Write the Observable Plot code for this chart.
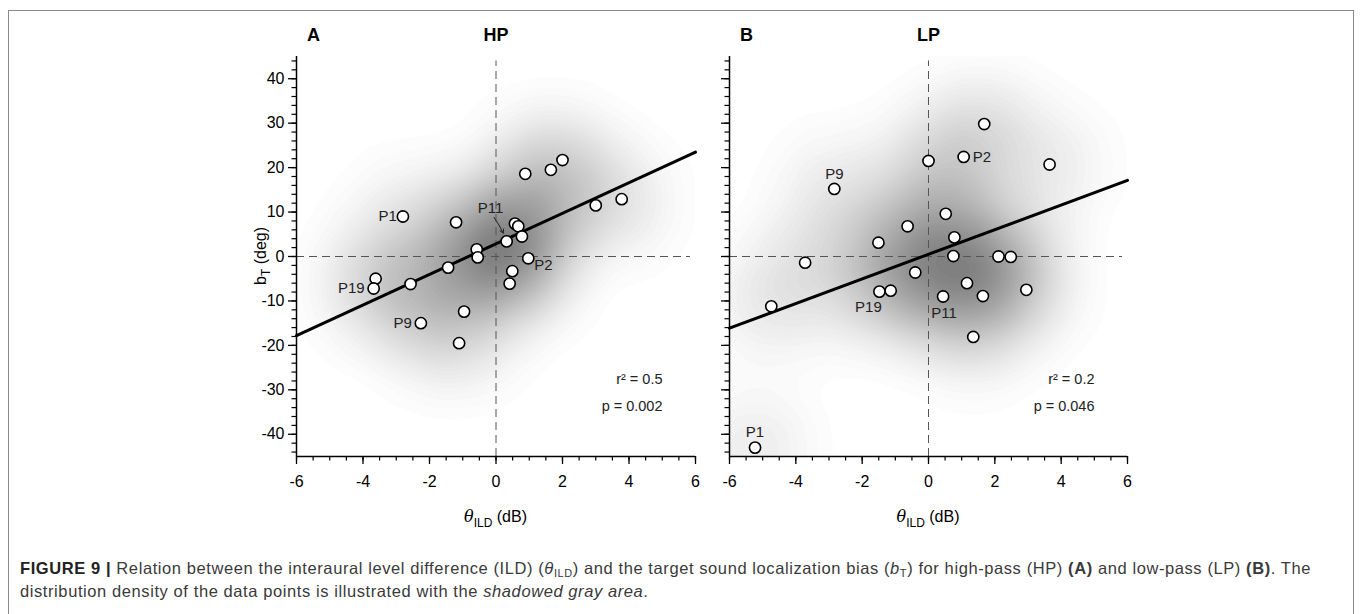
<!DOCTYPE html>
<html>
<head>
<meta charset="utf-8">
<script src="https://cdn.jsdelivr.net/npm/d3@7"></script>
<script src="https://cdn.jsdelivr.net/npm/@observablehq/plot@0.6"></script>
<style>
  html, body { margin: 0; padding: 0; background: #fff; }
  #root { position: relative; width: 1360px; height: 614px; overflow: hidden; font-family: "Liberation Sans", Arial, sans-serif; }
  #frame { position: absolute; left: 8px; top: 10px; width: 1346px; height: 640px; border: 1.5px solid #8a8a8a; box-sizing: border-box; }
  .panel { position: absolute; top: 0; }
  #caption { position: absolute; left: 20px; top: 557px; font-family: "Liberation Sans", Arial, sans-serif; font-size: 16.5px; color: #3a3a3a; white-space: nowrap; }
  #caption .line { display: block; height: 23px; line-height: 23px; }
  #caption .inner { display: inline-block; }
  #caption sub { font-size: 11px; line-height: 0; vertical-align: -3px; }
  #caption b.fig { color: #222; }
</style>
</head>
<body>
<div id="root">
  <div id="frame"></div>
  <div id="panelA" class="panel" style="left:0px"></div>
  <div id="panelB" class="panel" style="left:700px"></div>
  <div id="caption"><span class="line"><span class="inner" id="cap1"><b class="fig">FIGURE 9 |</b> Relation between the interaural level difference (ILD) (<i>θ</i><sub>ILD</sub>) and the target sound localization bias (<i>b</i><sub>T</sub>) for high-pass (HP) <b>(A)</b> and low-pass (LP) <b>(B)</b>. The</span></span><span class="line"><span class="inner" id="cap2">distribution density of the data points is illustrated with the <i>shadowed gray area</i>.</span></span></div>
</div>
<script>
// ---------- Data ----------
// Panel A: high-pass (HP)
const hpTheta = [-2.8, -1.2, 0.88, 1.65, 2.0, 3.0, 3.78, 0.57, 0.67, 0.78, 0.32, -0.58, -0.55, 0.97, -1.44, 0.49, -3.62, -3.68, -2.57, 0.41, -2.26, -0.96, -1.11];
const hpBias  = [9.0, 7.7, 18.6, 19.5, 21.7, 11.5, 12.9, 7.4, 6.8, 4.5, 3.4, 1.6, -0.2, -0.4, -2.5, -3.3, -5.0, -7.2, -6.2, -6.1, -15.0, -12.4, -19.5];
const hpLabel = ["P1", "", "", "", "", "", "", "", "", "", "P11", "", "", "P2", "", "", "", "P19", "", "", "P9", "", ""];
const hpFit = {intercept: 2.85, slope: 3.44};
const hpStats = ["r² = 0.5", "p = 0.002"];

// Panel B: low-pass (LP)
const lpTheta = [1.68, 1.06, 0.0, 3.65, -2.84, 0.52, -0.63, 0.78, -1.51, 0.75, 2.11, 2.48, -3.72, -0.40, 1.16, -1.48, -1.14, 0.44, 1.64, 2.95, -4.74, 1.35, -5.23];
const lpBias  = [29.8, 22.4, 21.5, 20.7, 15.2, 9.6, 6.8, 4.3, 3.1, 0.1, 0.0, -0.1, -1.4, -3.6, -6.0, -7.9, -7.7, -9.0, -8.9, -7.5, -11.2, -18.1, -43.0];
const lpLabel = ["", "P2", "", "", "P9", "", "", "", "", "", "", "", "", "", "", "P19", "", "P11", "", "", "", "", "P1"];
const lpFit = {intercept: 0.5, slope: 2.77};
const lpStats = ["r² = 0.2", "p = 0.046"];

// Axis ticks
const xMajor = [-6, -4, -2, 0, 2, 4, 6];
const xMinor = d3.range(-6, 6.001, 0.5);
const yMajor = [-40, -30, -20, -10, 0, 10, 20, 30, 40];
const yMinor = d3.range(-44, 44.001, 2);
const xDomain = [-6, 6];
const yDomain = [-45, 45];

// ---------- Styles (label placement) ----------
const labelStyleA = {
  P1:  {dx: -6, dy: 0, textAnchor: "end"},
  P19: {dx: -9, dy: 0, textAnchor: "end"},
  P9:  {dx: -9, dy: 0, textAnchor: "end"},
  P2:  {dx: 6, dy: 7, textAnchor: "start"},
  P11: {dx: -16, dy: -33, textAnchor: "middle"}
};
const labelStyleB = {
  P2:  {dx: 9, dy: 0, textAnchor: "start"},
  P9:  {dx: 0, dy: -15, textAnchor: "middle"},
  P19: {dx: -11, dy: 16, textAnchor: "middle"},
  P11: {dx: 1, dy: 17, textAnchor: "middle"},
  P1:  {dx: 0, dy: -15, textAnchor: "middle"}
};

const fmt = d => String(d);   // hyphen-minus as in the reference

function makePanel({theta, bias, label, fit, stats, letter, title, labelStyle, width, marginLeft, marginRight, showYLabels, arrowFor}) {
  const rows = theta.map((t, i) => ({x: t, y: bias[i], label: label[i]}));
  const fitLine = xDomain.map(x => ({x, y: fit.intercept + fit.slope * x}));
  const marks = [
    Plot.density(rows, {x: "x", y: "y", fill: "density", bandwidth: 36, thresholds: 50, clip: true}),
    Plot.ruleX([0], {y1: -45, y2: 44, stroke: "#555", strokeWidth: 1, strokeDasharray: "8,5"}),
    Plot.ruleY([0], {x1: -6, x2: 5.85, stroke: "#555", strokeWidth: 1, strokeDasharray: "8,5"}),
    Plot.line(fitLine, {x: "x", y: "y", stroke: "#000", strokeWidth: 3}),
    Plot.ruleX([-6], {stroke: "#000", strokeWidth: 1.5}),
    Plot.ruleY([-45], {stroke: "#000", strokeWidth: 1.5}),
    Plot.axisX(xMajor, {tickSize: 8, tickPadding: 11, label: null, fontSize: 16, stroke: "#000", strokeWidth: 1.3, tickFormat: fmt}),
    Plot.axisX(xMinor, {tickSize: 4.5, tickFormat: () => "", label: null, stroke: "#000", strokeWidth: 1.2}),
    Plot.axisY(yMajor, {tickSize: 8, tickPadding: 4, label: null, fontSize: 16, stroke: "#000", strokeWidth: 1.3, tickFormat: showYLabels ? fmt : () => ""}),
    Plot.axisY(yMinor, {tickSize: 4.5, tickFormat: () => "", label: null, stroke: "#000", strokeWidth: 1.2})
  ];
  if (arrowFor) {
    const target = rows.filter(r => r.label === arrowFor);
    marks.push(Plot.arrow(target, {x1: d => d.x - 0.38, y1: d => d.y + 5.4, x2: "x", y2: "y", insetEnd: 9, headLength: 6, stroke: "#222", strokeWidth: 1, bend: 8}));
  }
  marks.push(Plot.dot(rows, {x: "x", y: "y", r: 5.6, fill: "#fff", stroke: "#000", strokeWidth: 1.6}));
  for (const [name, st] of Object.entries(labelStyle)) {
    marks.push(Plot.text(rows.filter(r => r.label === name), {x: "x", y: "y", text: "label", fontSize: 15, fill: "#222", ...st}));
  }
  marks.push(Plot.text([letter], {frameAnchor: "top-left", dx: 17, dy: -21, lineAnchor: "middle", textAnchor: "middle", fontSize: 18, fontWeight: "bold", fill: "#000"}));
  marks.push(Plot.text([title], {frameAnchor: "top", dy: -21, lineAnchor: "middle", fontSize: 18, fontWeight: "bold", fill: "#000"}));
  marks.push(Plot.text([stats[0]], {frameAnchor: "bottom-right", dx: -33, dy: -77, lineAnchor: "middle", textAnchor: "end", fontSize: 14.5, fill: "#222"}));
  marks.push(Plot.text([stats[1]], {frameAnchor: "bottom-right", dx: -33, dy: -50, lineAnchor: "middle", textAnchor: "end", fontSize: 14.5, fill: "#222"}));

  return Plot.plot({
    width, height: 535,
    marginLeft, marginRight, marginTop: 56, marginBottom: 79,
    x: {domain: xDomain},
    y: {domain: yDomain},
    color: {type: "linear", range: ["#ffffff", "#808080"], interpolate: "rgb"},
    style: {fontFamily: "'Liberation Sans', Arial, sans-serif", fontSize: "16px", color: "#000", background: "transparent", overflow: "visible"},
    marks
  });
}

const svgA = makePanel({theta: hpTheta, bias: hpBias, label: hpLabel, fit: hpFit, stats: hpStats, letter: "A", title: "HP", labelStyle: labelStyleA, width: 700, marginLeft: 296, marginRight: 5, showYLabels: true, arrowFor: "P11"});
const svgB = makePanel({theta: lpTheta, bias: lpBias, label: lpLabel, fit: lpFit, stats: lpStats, letter: "B", title: "LP", labelStyle: labelStyleB, width: 440, marginLeft: 29, marginRight: 13, showYLabels: false, arrowFor: null});
document.getElementById("panelA").appendChild(svgA);
document.getElementById("panelB").appendChild(svgB);

// Axis titles with subscripts
function addXLabel(svg, cx) {
  const t = d3.select(svg).append("text").attr("x", cx).attr("y", 522).attr("text-anchor", "middle")
    .attr("font-size", 16).attr("fill", "#000");
  t.append("tspan").attr("font-style", "italic").attr("font-family", "'DejaVu Serif', serif").text("θ");
  t.append("tspan").attr("font-size", 12).attr("dy", 5).text("ILD");
  t.append("tspan").attr("dy", -5).text(" (dB)");
}
addXLabel(svgA, 495.5);
addXLabel(svgB, 228);
const yl = d3.select(svgA).append("text").attr("transform", "translate(266,256) rotate(-90)").attr("text-anchor", "middle")
  .attr("font-size", 16).attr("fill", "#000");
yl.append("tspan").text("b");
yl.append("tspan").attr("font-size", 12).attr("dy", 4).text("T");
yl.append("tspan").attr("dy", -4).text(" (deg)");

// Stretch caption line 1 to the reference width
const cap1 = document.getElementById("cap1");
const target = 1291;
const w = cap1.getBoundingClientRect().width;
const n = cap1.textContent.length;
const ls = (target - w) / n;
document.getElementById("caption").style.letterSpacing = ls + "px";
</script>
</body>
</html>
